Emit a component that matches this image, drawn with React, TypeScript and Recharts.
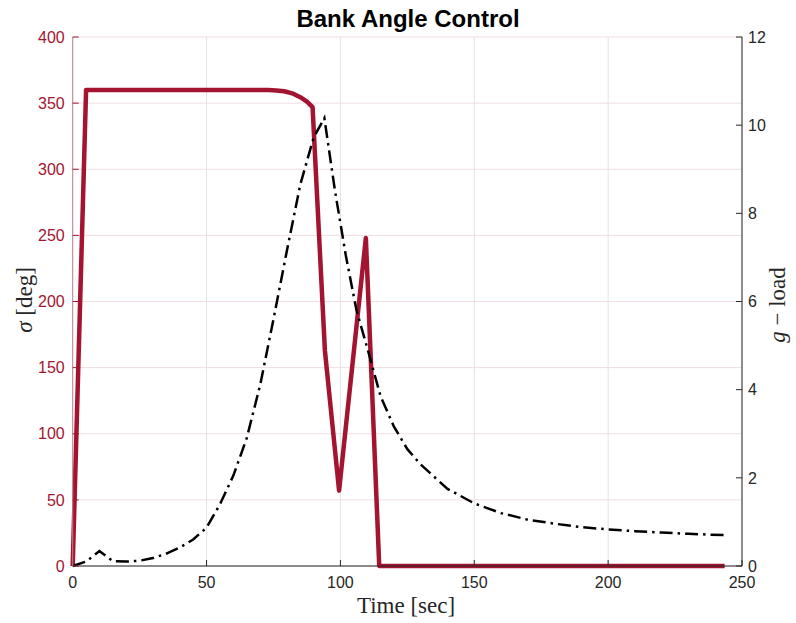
import { LineChart, Line, XAxis, YAxis, CartesianGrid } from 'recharts'

// bank angle sigma [deg] over time [sec]
const sigmaTime = [0, 5, 70, 73, 76, 79, 82, 85, 87.5, 89.6, 94.2, 99.5, 109.5, 114.5, 243.5]
const sigmaDeg = [0, 360, 360, 359.9, 359.6, 359, 357.4, 354.5, 351.2, 347, 163, 57, 248, 0, 0]

// g-load over time [sec]
const gTime = [
  0, 5, 10, 15, 20, 25, 30, 35, 40, 45, 50, 55, 60, 65, 70, 75, 80, 85, 90, 94,
  98, 102, 106, 110, 115, 120, 125, 130, 140, 150, 160, 170, 180, 190, 200, 210,
  220, 230, 243.5,
]
const gLoad = [
  0, 0.1, 0.34, 0.11, 0.1, 0.12, 0.18, 0.28, 0.42, 0.6, 0.87, 1.4, 2.05, 2.9,
  4.1, 5.6, 7.15, 8.65, 9.72, 10.16, 8.5, 7.05, 5.8, 4.95, 3.85, 3.16, 2.65, 2.3,
  1.75, 1.42, 1.2, 1.05, 0.96, 0.88, 0.83, 0.79, 0.76, 0.73, 0.7,
]

const timeTicks = [0, 50, 100, 150, 200, 250]
const sigmaTicks = [0, 50, 100, 150, 200, 250, 300, 350, 400]
const gTicks = [0, 2, 4, 6, 8, 10, 12]

const sigmaData = sigmaTime.map((t, i) => ({ t, sigma: sigmaDeg[i] }))
const gData = gTime.map((t, i) => ({ t, g: gLoad[i] }))

const RED = '#A2142F'
const AXIS = '#262626'
const W = 796
const H = 623

export default function App() {
  const tickFont = { fontFamily: 'Liberation Sans, Arial, sans-serif', fontSize: 16 }
  const serif = 'Liberation Serif, Times New Roman, serif'
  return (
    <div style={{ position: 'absolute', left: 0, top: 0, width: W, height: H }}>
      <LineChart
        width={W}
        height={H}
        margin={{ top: 37, right: 0, bottom: 0, left: 0 }}
      >
        <CartesianGrid
          yAxisId="left"
          vertical={false}
          stroke="#f1dde0"
          horizontalValues={sigmaTicks}
        />
        <CartesianGrid
          yAxisId="left"
          horizontal={false}
          stroke="#e3e3e3"
          verticalValues={timeTicks}
        />
        <XAxis
          xAxisId="top"
          orientation="top"
          type="number"
          dataKey="t"
          domain={[0, 250]}
          ticks={timeTicks}
          height={0}
          tickFormatter={() => ''}
          tickSize={-6}
          stroke={AXIS}
          axisLine={{ stroke: '#9a9a9a' }}
        />
        <XAxis
          type="number"
          dataKey="t"
          domain={[0, 250]}
          ticks={timeTicks}
          height={57}
          tickSize={-6}
          tickMargin={17}
          stroke={AXIS}
          tick={{ ...tickFont, fill: AXIS }}
        />
        <YAxis
          yAxisId="left"
          domain={[0, 400]}
          ticks={sigmaTicks}
          width={72.7}
          tickSize={-6}
          tickMargin={14}
          stroke={RED}
          axisLine={{ stroke: '#c0808c' }}
          tick={{ ...tickFont, fill: RED }}
        />
        <YAxis
          yAxisId="right"
          orientation="right"
          domain={[0, 12]}
          ticks={gTicks}
          width={54}
          tickSize={-6}
          tickMargin={12}
          stroke={AXIS}
          tick={{ ...tickFont, fill: AXIS }}
        />
        <Line
          yAxisId="left"
          data={sigmaData}
          dataKey="sigma"
          type="linear"
          stroke={RED}
          strokeWidth={4.5}
          strokeLinejoin="round"
          dot={false}
          isAnimationActive={false}
        />
        <Line
          yAxisId="right"
          data={gData}
          dataKey="g"
          type="linear"
          stroke="#000000"
          strokeWidth={2.5}
          strokeDasharray="13 5 2.5 5"
          dot={false}
          isAnimationActive={false}
        />
      </LineChart>
      <svg
        width={W}
        height={H}
        style={{ position: 'absolute', left: 0, top: 0, pointerEvents: 'none' }}
      >
        <text
          x={408}
          y={27}
          textAnchor="middle"
          fontFamily="Liberation Sans, Arial, sans-serif"
          fontWeight="bold"
          fontSize={24}
          fill="#000"
        >
          Bank Angle Control
        </text>
        <text
          x={406}
          y={613}
          textAnchor="middle"
          fontFamily={serif}
          fontSize={23}
          fill={AXIS}
        >
          Time [sec]
        </text>
        <text
          transform="translate(32,300) rotate(-90)"
          textAnchor="middle"
          fontFamily={serif}
          fontSize={23}
          fill={AXIS}
        >
          <tspan fontStyle="italic">σ</tspan> [deg]
        </text>
        <text
          transform="translate(785,305) rotate(-90)"
          textAnchor="middle"
          fontFamily={serif}
          fontSize={23}
          fill={AXIS}
        >
          <tspan fontStyle="italic">g</tspan> − load
        </text>
      </svg>
    </div>
  )
}
